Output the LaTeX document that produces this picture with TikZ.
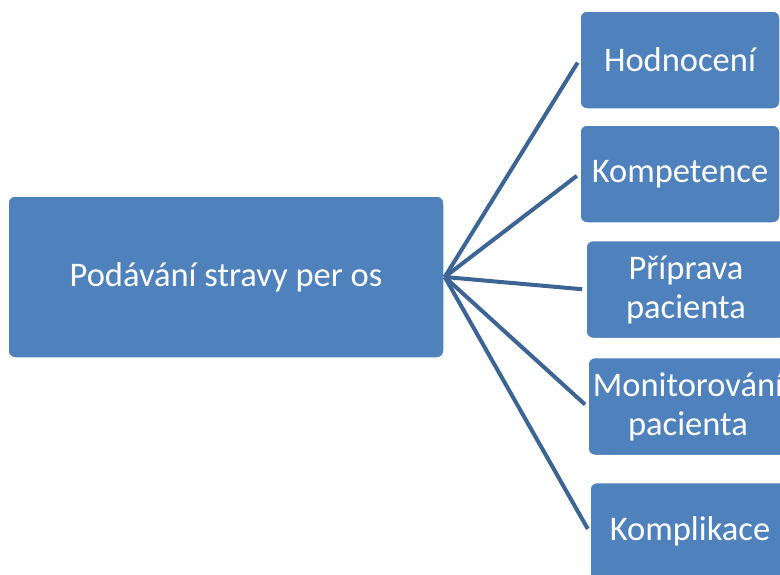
\documentclass[tikz,border=0pt]{standalone}
\usepackage{fontspec}
\setmainfont{Carlito}
\begin{document}
\begin{tikzpicture}[x=1pt,y=-1pt,
  box/.style={draw=white, line width=1.5pt, fill=boxblue, rounded corners=7pt,
    text=white, align=center, inner sep=0pt,
    font=\fontsize{34.5}{39}\selectfont},
  link/.style={draw=linkblue, line width=4pt, shorten >=3pt}]
\definecolor{boxblue}{HTML}{4F81BD}
\definecolor{linkblue}{HTML}{3C6494}
\useasboundingbox (0,0) rectangle (780,574);
\node[box, minimum width=436pt, minimum height=162pt] (root) at (226,277) {Podávání stravy per os};
\node[box, minimum width=200pt, minimum height=98pt] (a) at (680,60) {Hodnocení};
\node[box, minimum width=200pt, minimum height=98pt] (b) at (680,174) {Kompetence};
\node[box, minimum width=200pt, minimum height=98pt] (c) at (686,289.5) {Příprava\\pacienta};
\node[box, minimum width=200pt, minimum height=98pt] (d) at (688,406.5) {Monitorování\\pacienta};
\node[box, minimum width=200pt, minimum height=98pt] (e) at (690,531.5) {Komplikace};
\foreach \t in {a,b,c,d,e}
  \draw[link] (root.east) -- (\t.west);
\end{tikzpicture}
\end{document}
